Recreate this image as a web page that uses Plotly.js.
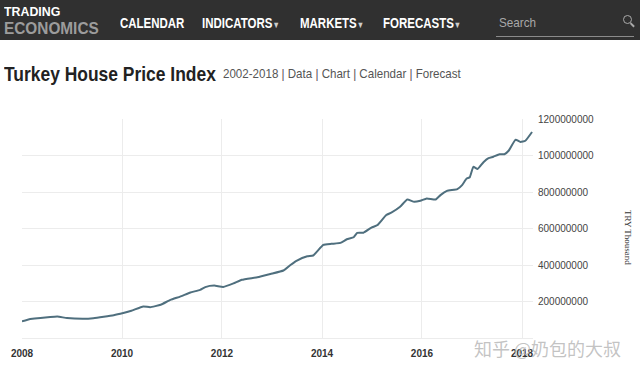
<!DOCTYPE html>
<html>
<head>
<meta charset="utf-8">
<script src="https://cdn.plot.ly/plotly-3.0.1.min.js"></script>
<style>
  html,body{margin:0;padding:0;background:#fff;}
  body{width:640px;height:374px;overflow:hidden;position:relative;font-family:"Liberation Sans",Arial,sans-serif;}
  #chart{position:absolute;left:0;top:0;width:640px;height:374px;}
  .t{position:absolute;white-space:nowrap;transform-origin:left center;line-height:1;}
  #nav{position:absolute;left:0;top:0;width:640px;height:40px;background:#303030;}
</style>
</head>
<body>
<div id="chart"></div>
<div id="nav"></div>
<div class="t" style="left:4px;top:6px;font-size:12px;font-weight:bold;color:#fff;transform:scaleX(1.03);">TRADING</div>
<div class="t" style="left:4px;top:21px;font-size:16px;font-weight:bold;color:#9c9c9c;transform:scaleX(0.96);">ECONOMICS</div>
<div class="t" style="left:120px;top:16px;font-size:14px;font-weight:bold;color:#fff;transform:scaleX(0.82);">CALENDAR</div>
<div class="t" style="left:202px;top:16px;font-size:14px;font-weight:bold;color:#fff;transform:scaleX(0.82);">INDICATORS<span style="font-size:9px;color:#ccc;">&#9660;</span></div>
<div class="t" style="left:300px;top:16px;font-size:14px;font-weight:bold;color:#fff;transform:scaleX(0.82);">MARKETS<span style="font-size:9px;color:#ccc;">&#9660;</span></div>
<div class="t" style="left:383px;top:16px;font-size:14px;font-weight:bold;color:#fff;transform:scaleX(0.82);">FORECASTS<span style="font-size:9px;color:#ccc;">&#9660;</span></div>
<div class="t" style="left:499px;top:16px;font-size:13px;color:#a8a8a8;transform:scaleX(0.9);">Search</div>
<div style="position:absolute;left:496px;top:36px;width:138px;height:1px;background:#8a8a8a;"></div>
<div style="position:absolute;left:623px;top:15px;width:7px;height:7px;border:1.5px solid #aaa;border-radius:50%;"></div>
<div style="position:absolute;left:630px;top:24px;width:5px;height:1.5px;background:#aaa;transform:rotate(45deg);"></div>
<div class="t" style="left:4px;top:63px;font-size:21px;font-weight:bold;color:#222;transform:scaleX(0.83);">Turkey House Price Index</div>
<div class="t" style="left:223px;top:67px;font-size:13px;color:#555;transform:scaleX(0.89);">2002-2018 | Data | Chart | Calendar | Forecast</div>
<script>
// Turkey House Price Index (TRY Thousand)
const dates = [
  '2008-01-01','2008-03-01','2008-05-15','2008-07-25','2008-09-15','2008-11-25',
  '2009-03-25','2009-06-05','2009-08-20','2009-11-01',
  '2010-01-10','2010-03-10','2010-06-05','2010-07-25','2010-10-10','2010-12-20',
  '2011-03-01','2011-05-15','2011-07-25','2011-09-01','2011-11-05',
  '2012-01-10','2012-03-25','2012-05-25','2012-09-15','2012-12-20',
  '2013-03-25','2013-05-15','2013-06-28','2013-09-15','2013-10-28',
  '2014-01-10','2014-03-10','2014-05-15','2014-07-01','2014-08-20','2014-09-15','2014-10-30','2014-12-28',
  '2015-02-10','2015-04-15','2015-05-22','2015-07-25','2015-09-15','2015-11-05','2015-12-20',
  '2016-02-05','2016-04-10','2016-05-15','2016-07-01','2016-09-15','2016-10-20','2016-11-22','2016-12-15',
  '2017-01-10','2017-02-10','2017-03-25','2017-05-01','2017-06-05','2017-07-20','2017-08-25','2017-09-25','2017-11-15','2017-12-20',
  '2018-01-25','2018-03-15'
];
const values = [
  91000000,104000000,109000000,115000000,118000000,109000000,
  105000000,108000000,116000000,125000000,
  137000000,149000000,173000000,169000000,182000000,209000000,
  227000000,249000000,264000000,279000000,287000000,
  280000000,299000000,319000000,333000000,351000000,
  370000000,400000000,423000000,448000000,452000000,
  510000000,516000000,521000000,541000000,552000000,576000000,577000000,605000000,
  619000000,674000000,687000000,719000000,759000000,746000000,752000000,
  765000000,759000000,783000000,806000000,816000000,838000000,874000000,881000000,
  938000000,926000000,963000000,985000000,993000000,1007000000,1007000000,1026000000,1087000000,1074000000,
  1081000000,1129000000
];
const xTickVals = ['2008-01-01','2010-01-01','2012-01-01','2014-01-01','2016-01-01','2018-01-01'];
const xTickText = ['2008','2010','2012','2014','2016','2018'];
const yTickVals = [200000000,400000000,600000000,800000000,1000000000,1200000000];
const yTickText = ['200000000','400000000','600000000','800000000','1000000000','1200000000'];
const unitLabel = 'TRY Thousand';
const watermark = '知乎 @奶包的大叔';

const trace = {
  type: 'scatter', mode: 'lines', x: dates, y: values,
  line: {color: '#4f6f7e', width: 2, shape: 'spline', smoothing: 0.4},
  hoverinfo: 'skip'
};
const layout = {
  width: 640, height: 374,
  margin: {l: 22, r: 107, t: 119, b: 36, pad: 0},
  paper_bgcolor: 'rgba(0,0,0,0)', plot_bgcolor: '#ffffff',
  showlegend: false,
  xaxis: {
    type: 'date', range: ['2008-01-01', '2018-03-22'],
    tickmode: 'array', tickvals: xTickVals, ticktext: xTickText,
    showgrid: true, gridcolor: '#ececec', gridwidth: 1,
    zeroline: false, showline: true, linecolor: '#ececec', linewidth: 1,
    ticks: '', ticklabelstandoff: 6,
    tickfont: {family: 'Liberation Sans, Arial, sans-serif', size: 10, color: '#333', weight: 'bold'}
  },
  yaxis: {
    side: 'right', range: [0, 1200000000],
    tickmode: 'array', tickvals: yTickVals, ticktext: yTickText,
    showgrid: true, gridcolor: '#ececec', gridwidth: 1,
    zeroline: false, showline: false,
    ticks: '', ticklabelstandoff: 4,
    tickfont: {family: 'Liberation Sans, Arial, sans-serif', size: 10, color: '#444'}
  },
  annotations: [
    {text: unitLabel, xref: 'paper', yref: 'paper', x: 1.186, y: 0.461,
     xanchor: 'center', yanchor: 'middle', textangle: 90, showarrow: false,
     font: {family: 'Liberation Serif, Times New Roman, serif', size: 9, color: '#333'}},
    {text: watermark, xref: 'paper', yref: 'paper', x: 1.029, y: -0.046,
     xanchor: 'center', yanchor: 'middle', showarrow: false,
     font: {family: 'Noto Sans CJK SC, sans-serif', size: 18, color: 'rgba(185,185,185,0.85)'}}
  ]
};
Plotly.newPlot('chart', [trace], layout, {staticPlot: true, displayModeBar: false});
</script>
</body>
</html>
